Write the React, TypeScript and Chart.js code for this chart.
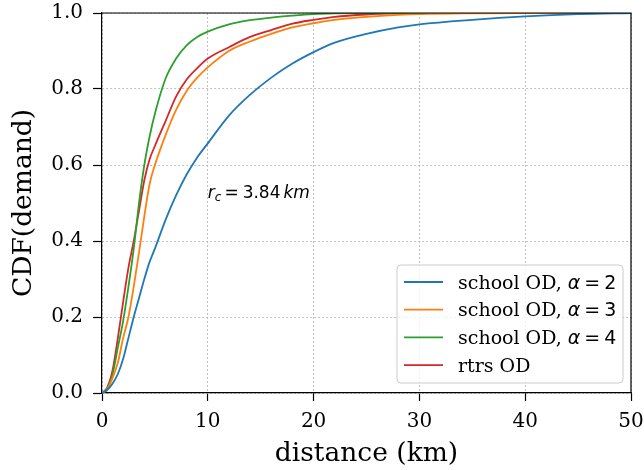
import React, { useEffect, useRef } from "react";
import { Chart, registerables } from "chart.js";

Chart.register(...registerables);

const distances = [0, 0.5, 1, 1.5, 2, 2.5, 3, 3.5, 4, 4.5, 5, 6, 7, 8, 9, 10, 12, 14, 16, 18, 20, 22, 25, 28, 30, 35, 40, 45, 50];
const alpha2 = [0, 0.008, 0.025, 0.05, 0.09, 0.145, 0.2, 0.25, 0.3, 0.345, 0.38, 0.455, 0.52, 0.575, 0.62, 0.657, 0.73, 0.785, 0.83, 0.867, 0.897, 0.922, 0.945, 0.962, 0.97, 0.982, 0.991, 0.997, 1.0];
const alpha3 = [0, 0.01, 0.04, 0.08, 0.145, 0.2, 0.28, 0.37, 0.465, 0.55, 0.6, 0.678, 0.745, 0.795, 0.83, 0.857, 0.9, 0.925, 0.945, 0.962, 0.973, 0.982, 0.99, 0.995, 0.997, 0.999, 1.0, 1.0, 1.0];
const alpha4 = [0, 0.012, 0.05, 0.12, 0.19, 0.28, 0.38, 0.5, 0.6, 0.675, 0.735, 0.827, 0.88, 0.915, 0.937, 0.951, 0.97, 0.981, 0.988, 0.993, 0.997, 0.999, 1.0, 1.0, 1.0, 1.0, 1.0, 1.0, 1.0];
const rtrs = [0, 0.015, 0.06, 0.145, 0.24, 0.33, 0.4, 0.48, 0.56, 0.615, 0.65, 0.715, 0.78, 0.825, 0.855, 0.88, 0.91, 0.937, 0.955, 0.972, 0.982, 0.99, 0.996, 0.999, 1.0, 1.0, 1.0, 1.0, 1.0];

const seriesLabels = ["school OD, α = 2", "school OD, α = 3", "school OD, α = 4", "rtrs OD"];
const seriesColors = ["#1f77b4", "#ff7f0e", "#2ca02c", "#d62728"];
const seriesValues = [alpha2, alpha3, alpha4, rtrs];

const xTicks = [0, 10, 20, 30, 40, 50];
const yTicks = [0, 0.2, 0.4, 0.6, 0.8, 1.0];

const SERIF = "'DejaVu Serif', serif";
const SANS = "'DejaVu Sans', sans-serif";

const framePlugin = {
  id: "frame",
  afterDatasetsDraw(chart: any) {
    const { ctx, chartArea } = chart;
    ctx.save();
    ctx.strokeStyle = "#000";
    ctx.lineWidth = 1.2;
    ctx.beginPath();
    ctx.moveTo(chartArea.left, chartArea.top);
    ctx.lineTo(chartArea.right, chartArea.top);
    ctx.lineTo(chartArea.right, chartArea.bottom);
    ctx.stroke();

    // annotation r_c = 3.84 km
    const xs = chart.scales.x;
    const ys = chart.scales.y;
    let ax = xs.getPixelForValue(10);
    const ay = ys.getPixelForValue(0.512);
    ctx.fillStyle = "#000";
    ctx.textBaseline = "alphabetic";
    ctx.textAlign = "left";
    ctx.font = `italic 17px ${SANS}`;
    ctx.fillText("r", ax, ay);
    ax += ctx.measureText("r").width;
    ctx.font = `italic 12px ${SANS}`;
    ctx.fillText("c", ax, ay + 3);
    ax += ctx.measureText("c").width + 3;
    ctx.font = `17px ${SANS}`;
    ctx.fillText("=", ax, ay);
    ax += ctx.measureText("=").width + 4;
    ctx.fillText("3.84", ax, ay);
    ax += ctx.measureText("3.84").width + 3;
    ctx.font = `italic 17px ${SANS}`;
    ctx.fillText("km", ax, ay);

    // legend
    const bx = 397, by = 265, bw = 226, bh = 118;
    ctx.beginPath();
    const r = 4;
    ctx.moveTo(bx + r, by);
    ctx.arcTo(bx + bw, by, bx + bw, by + bh, r);
    ctx.arcTo(bx + bw, by + bh, bx, by + bh, r);
    ctx.arcTo(bx, by + bh, bx, by, r);
    ctx.arcTo(bx, by, bx + bw, by, r);
    ctx.closePath();
    ctx.fillStyle = "rgba(255,255,255,0.8)";
    ctx.fill();
    ctx.strokeStyle = "#cccccc";
    ctx.lineWidth = 1;
    ctx.stroke();

    chart.data.datasets.forEach((ds: any, i: number) => {
      const ly = 282 + i * 27.7;
      ctx.strokeStyle = ds.borderColor;
      ctx.lineWidth = 1.8;
      ctx.beginPath();
      ctx.moveTo(404, ly);
      ctx.lineTo(443, ly);
      ctx.stroke();
      let tx = 458;
      const tb = ly + 6.5;
      ctx.fillStyle = "#000";
      const label: string = ds.label;
      const k = label.indexOf("α");
      if (k >= 0) {
        const pre = label.slice(0, k);
        const rest = label.slice(k + 1).replace(/\s/g, "");
        ctx.font = `19px ${SERIF}`;
        ctx.fillText(pre, tx, tb);
        tx += ctx.measureText(pre).width;
        ctx.font = `italic 19px ${SANS}`;
        ctx.fillText("α", tx, tb);
        tx += ctx.measureText("α").width + 4;
        ctx.font = `19px ${SANS}`;
        const parts = rest.split("=");
        ctx.fillText("=", tx, tb);
        tx += ctx.measureText("=").width + 4;
        ctx.fillText(parts[1], tx, tb);
      } else {
        ctx.font = `19px ${SERIF}`;
        ctx.fillText(label, tx, tb);
      }
    });
    ctx.restore();
  },
};

const zeroPad = (s: any) => {
  s.paddingTop = 0;
  s.paddingBottom = 0;
  s.paddingLeft = 0;
  s.paddingRight = 0;
};

export default function App() {
  const ref = useRef<HTMLCanvasElement>(null);
  useEffect(() => {
    if (!ref.current) return;
    const datasets = seriesValues.map((vals, i) => ({
      label: seriesLabels[i],
      data: distances.map((d, j) => ({ x: d, y: vals[j] })),
      borderColor: seriesColors[i],
      backgroundColor: seriesColors[i],
      borderWidth: 1.8,
      pointRadius: 0,
      cubicInterpolationMode: "monotone" as const,
      fill: false,
    }));
    const chart = new Chart(ref.current, {
      type: "line",
      data: { datasets },
      plugins: [framePlugin],
      options: {
        animation: false,
        responsive: false,
        devicePixelRatio: 1,
        layout: { padding: { top: 13, right: 13, left: 0, bottom: 0 } },
        plugins: { legend: { display: false }, tooltip: { enabled: false } },
        scales: {
          x: {
            type: "linear",
            min: 0,
            max: 50,
            afterFit: (s: any) => { s.height = 77; zeroPad(s); },
            afterBuildTicks: (s: any) => { s.ticks = xTicks.map((v) => ({ value: v })); },
            ticks: {
              color: "#000",
              font: { family: SERIF, size: 20 },
              padding: 9,
              maxRotation: 0,
              callback: (v: any) => String(v),
            },
            grid: {
              color: "#b0b0b0",
              lineWidth: 0.8,
              drawTicks: true,
              tickLength: 8,
              tickColor: "#000",
              tickWidth: 1.2,
              tickBorderDash: [],
            } as any,
            border: { display: true, color: "#000", width: 1.2, dash: [2, 2] },
            title: {
              display: true,
              text: "distance (km)",
              color: "#000",
              font: { family: SERIF, size: 26.5 },
              padding: { top: 0, bottom: 0 },
            },
          },
          y: {
            type: "linear",
            min: 0,
            max: 1,
            afterFit: (s: any) => { s.width = 102; zeroPad(s); },
            afterBuildTicks: (s: any) => { s.ticks = yTicks.map((v) => ({ value: v })); },
            ticks: {
              color: "#000",
              font: { family: SERIF, size: 20 },
              padding: 10,
              callback: (v: any) => Number(v).toFixed(1),
            },
            grid: {
              color: "#b0b0b0",
              lineWidth: 0.8,
              drawTicks: true,
              tickLength: 9,
              tickColor: "#000",
              tickWidth: 1.2,
              tickBorderDash: [],
            } as any,
            border: { display: true, color: "#000", width: 1.2, dash: [2, 2] },
            title: {
              display: true,
              text: "CDF(demand)",
              color: "#000",
              font: { family: SERIF, size: 26.5 },
              padding: { top: 8, bottom: 0 },
            },
          },
        },
      },
    });
    return () => chart.destroy();
  }, []);
  return (
    <div style={{ position: "absolute", left: 0, top: 0, width: 644, height: 470, background: "#fff" }}>
      <canvas ref={ref} width={644} height={470} style={{ width: 644, height: 470 }} />
    </div>
  );
}
